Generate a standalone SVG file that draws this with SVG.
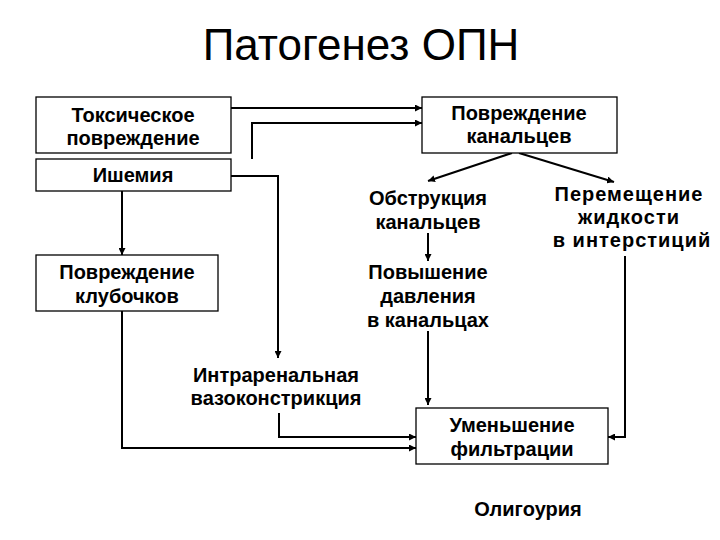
<svg xmlns="http://www.w3.org/2000/svg" width="720" height="540" viewBox="0 0 720 540">
<defs>
<marker id="ah" viewBox="0 0 10 10" refX="10" refY="5" markerWidth="7" markerHeight="7" markerUnits="userSpaceOnUse" orient="auto">
<path d="M0,0 L10,5 L0,10 z" fill="#000"/>
</marker>
<style>
.box{fill:#fff;stroke:#000;stroke-width:1.3}
.t{font-family:"Liberation Sans",Arial,sans-serif;font-weight:bold;font-size:20px;text-anchor:middle;fill:#000}
.w{letter-spacing:1px}
.title{font-family:"Liberation Sans",Arial,sans-serif;font-size:44px;text-anchor:middle;fill:#000}
.c{fill:none;stroke:#000;stroke-width:2;marker-end:url(#ah)}
</style>
</defs>
<rect width="720" height="540" fill="#fff"/>
<text class="title" x="361" y="60">Патогенез ОПН</text>
<g id="connectors">
<path class="c" d="M231,108 H422"/>
<path class="c" d="M252,159 V123 H422"/>
<path class="c" d="M231,176 H278 V358"/>
<path class="c" d="M122,191 V255"/>
<path class="c" d="M122,311 V448 H416"/>
<path class="c" d="M279,413 V437 H416"/>
<path class="c" d="M512,153 L428,181"/>
<path class="c" d="M519,153 L614,182"/>
<path class="c" d="M428,233 V261"/>
<path class="c" d="M428,331 V405"/>
<path class="c" d="M625,256 V437 H608"/>
</g>
<g id="toxic">
<rect class="box" x="36" y="97" width="195" height="56"/>
<text class="t" x="133" y="122">Токсическое</text>
<text class="t" x="133" y="145">повреждение</text>
</g>
<g id="ischemia">
<rect class="box" x="36" y="159" width="195" height="32"/>
<text class="t" x="133" y="182">Ишемия</text>
</g>
<g id="tubule-damage">
<rect class="box" x="422" y="97" width="195" height="56"/>
<text class="t" x="519" y="120">Повреждение</text>
<text class="t" x="519" y="143">канальцев</text>
</g>
<g id="obstruction">
<text class="t" x="428" y="205">Обструкция</text>
<text class="t" x="428" y="229">канальцев</text>
</g>
<g id="fluid">
<text class="t w" x="629" y="201">Перемещение</text>
<text class="t w" x="629" y="224">жидкости</text>
<text class="t w" x="632" y="247">в интерстиций</text>
</g>
<g id="glomeruli">
<rect class="box" x="36" y="255" width="182" height="56"/>
<text class="t" x="127" y="279">Повреждение</text>
<text class="t" x="127" y="303">клубочков</text>
</g>
<g id="pressure">
<text class="t" x="428" y="279">Повышение</text>
<text class="t" x="428" y="303">давления</text>
<text class="t" x="428" y="327">в канальцах</text>
</g>
<g id="vasoconstriction">
<text class="t" x="276" y="382">Интраренальная</text>
<text class="t" x="276" y="405">вазоконстрикция</text>
</g>
<g id="filtration">
<rect class="box" x="416" y="408" width="192" height="56"/>
<text class="t" x="512" y="432">Уменьшение</text>
<text class="t" x="512" y="456">фильтрации</text>
</g>
<g id="oliguria">
<text class="t" x="528" y="516">Олигоурия</text>
</g>
</svg>
